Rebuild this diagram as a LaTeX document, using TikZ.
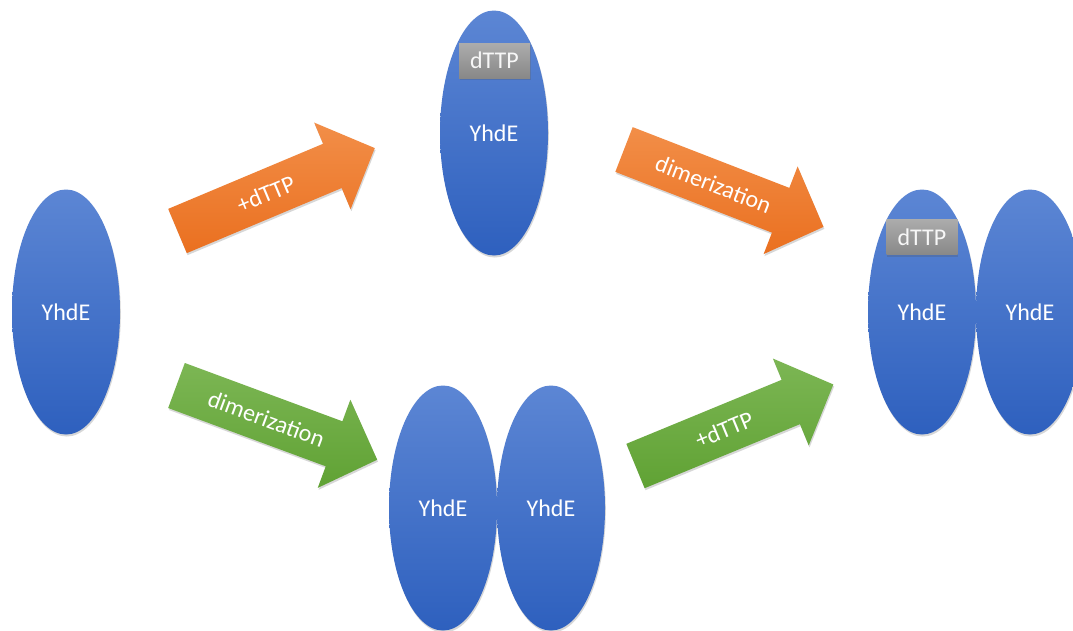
\documentclass[tikz,border=0pt]{standalone}
\usepackage{fontspec}
\setmainfont{Carlito}
\usetikzlibrary{shapes.geometric,shadows}
\definecolor{bluetop}{RGB}{92,134,212}
\definecolor{bluebot}{RGB}{46,96,190}
\definecolor{orangetop}{RGB}{242,142,72}
\definecolor{orangebot}{RGB}{234,112,32}
\definecolor{greentop}{RGB}{124,182,84}
\definecolor{greenbot}{RGB}{96,162,52}
\definecolor{graytop}{RGB}{172,172,172}
\definecolor{graybot}{RGB}{136,136,136}
\tikzset{
  lbl/.style={font=\fontsize{24}{28}\selectfont},
  softshadow/.style={drop shadow={shadow xshift=0.8pt, shadow yshift=-2pt, opacity=0.22, fill=black!70}},
  prot/.style={ellipse, minimum width=108pt, minimum height=245pt, inner sep=0pt,
    top color=bluetop, bottom color=bluebot, text=white, lbl, softshadow},
  lig/.style={rectangle, minimum width=71pt, minimum height=35pt, inner sep=0pt,
    top color=graytop, bottom color=graybot, text=white!94!gray, lbl, softshadow},
  arrtext/.style={text=white, lbl, transform shape, inner sep=0pt},
}
% #1 name, #2 tail midpoint, #3 angle, #4 top colour, #5 bottom colour, #6 text
\newcommand\blockarrow[6]{%
  \begin{scope}[shift={(#2)}, rotate=#3]
    \path[softshadow, top color=#4, bottom color=#5]
      (0,-24) -- (168,-24) -- (168,-47) -- (214,0) -- (168,47) -- (168,24) -- (0,24) -- cycle;
    \node[arrtext] (#1) at (96,0) {#6};
  \end{scope}}
\begin{document}
\begin{tikzpicture}[x=1pt,y=-1pt]
  \useasboundingbox (0,0) rectangle (1073,630);
  \fill[white] (0,0) rectangle (1073,630);
  % single protein
  \node[prot] (m0) at (66,312) {YhdE};
  % protein with dTTP (top)
  \node[prot] (m1) at (494,133) {YhdE};
  \node[lig] (l1) at (494.5,60.5) {dTTP};
  % dimer (bottom)
  \node[prot] (d1) at (443,508) {YhdE};
  \node[prot] (d2) at (551,508) {YhdE};
  % dimer with dTTP (right)
  \node[prot] (r1) at (922,312) {YhdE};
  \node[prot] (r2) at (1030,312) {YhdE};
  \node[lig] (l2) at (922,237) {dTTP};
  % arrows
  \blockarrow{a1}{177.5,231}{22.8}{orangetop}{orangebot}{+dTTP}
  \blockarrow{a2}{624,149.5}{-21.2}{orangetop}{orangebot}{dimerization}
  \blockarrow{a3}{176.5,385.5}{-20.3}{greentop}{greenbot}{dimerization}
  \blockarrow{a4}{635.5,466}{22.4}{greentop}{greenbot}{+dTTP}
\end{tikzpicture}
\end{document}
